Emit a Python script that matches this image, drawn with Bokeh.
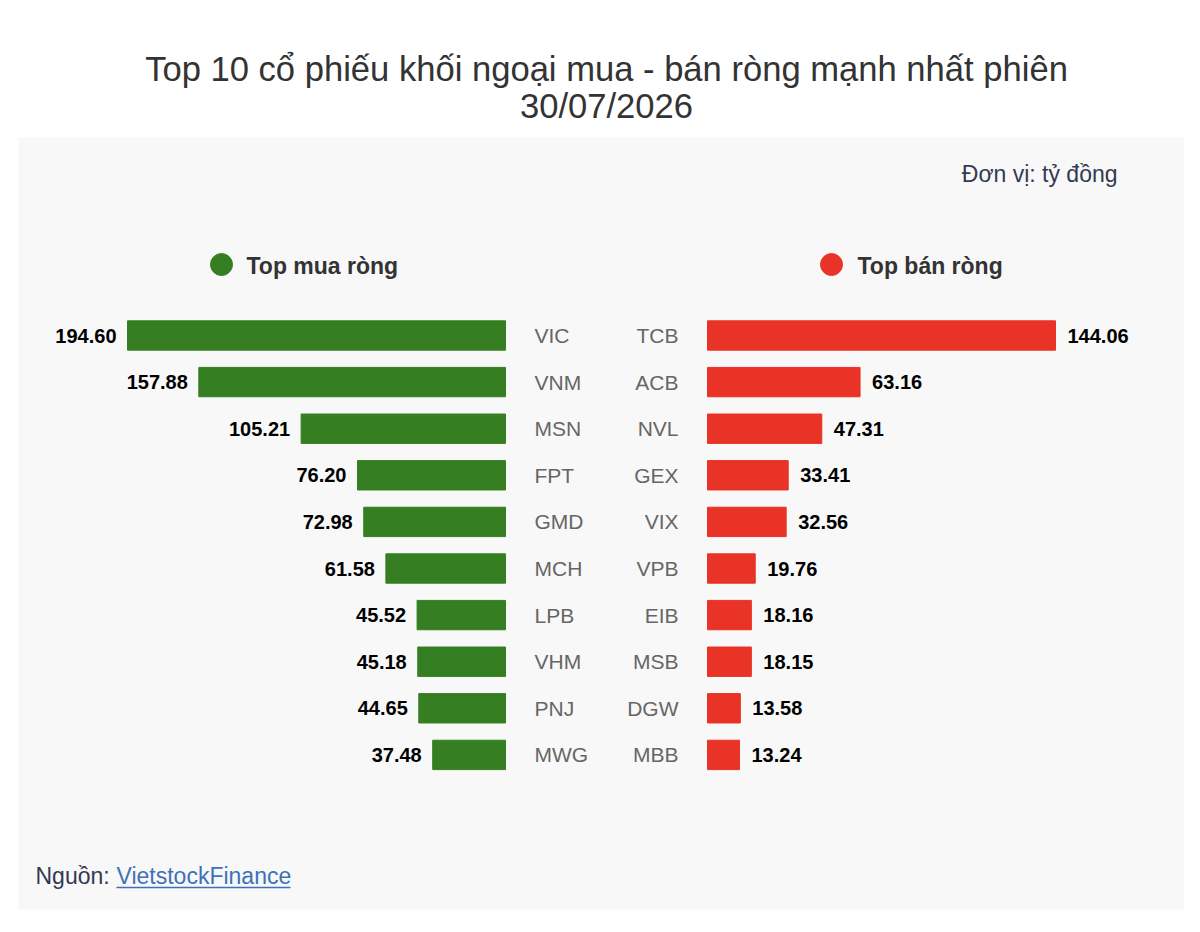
from bokeh.plotting import figure
from bokeh.models import Range1d, BoxAnnotation, Label
from bokeh.core.properties import value
from bokeh.embed import file_html
from bokeh.resources import INLINE

# data
title_text = "Top 10 cổ phiếu khối ngoại mua - bán ròng mạnh nhất phiên\n30/07/2026"
unit_text = "Đơn vị: tỷ đồng"
buy_name = "Top mua ròng"
sell_name = "Top bán ròng"
buy_tickers = ["VIC", "VNM", "MSN", "FPT", "GMD", "MCH", "LPB", "VHM", "PNJ", "MWG"]
buy_values = [194.60, 157.88, 105.21, 76.20, 72.98, 61.58, 45.52, 45.18, 44.65, 37.48]
sell_tickers = ["TCB", "ACB", "NVL", "GEX", "VIX", "VPB", "EIB", "MSB", "DGW", "MBB"]
sell_values = [144.06, 63.16, 47.31, 33.41, 32.56, 19.76, 18.16, 18.15, 13.58, 13.24]
source_label = "Nguồn:"
source_name = "VietstockFinance"

FONT = "Liberation Sans"
GREEN = "#367e22"
RED = "#e83326"

W, H = 1184, 916
# main ranges are in screenshot pixels
p = figure(width=W, height=H, x_range=Range1d(0, W), y_range=Range1d(H, 0),
           output_backend="svg", toolbar_location=None, min_border=0,
           background_fill_color="white", border_fill_color="white")
p.axis.visible = False
p.grid.visible = False
p.outline_line_color = None

# grey panel
p.add_layout(BoxAnnotation(left=18, right=1192, top=137, bottom=909, level="underlay",
                           fill_color="#f8f8f8", fill_alpha=1, line_color=None))

# scales for the two bar groups
buy_zero, buy_px = 505, 378 / max(buy_values)
sell_zero, sell_px = 707, 348 / max(sell_values)
row0, row_step = 335, 46.6
p.extra_x_ranges = {
    "buy": Range1d(buy_zero / buy_px, (buy_zero - W) / buy_px),
    "sell": Range1d(-sell_zero / sell_px, (W - sell_zero) / sell_px),
}
p.extra_y_ranges = {"rows": Range1d((H - row0) / row_step, -row0 / row_step)}

idx = list(range(len(buy_tickers)))

p.hbar(y=idx, left=0, right=buy_values, height=0.63, color=GREEN,
       x_range_name="buy", y_range_name="rows")
p.hbar(y=idx, left=0, right=sell_values, height=0.63, color=RED,
       x_range_name="sell", y_range_name="rows")

p.text(x=buy_values, y=idx, text=[f"{v:.2f}" for v in buy_values], x_offset=-11,
       text_align="right", text_baseline="middle", text_font=value(FONT),
       text_font_style="bold", text_font_size="20px", text_color="#000000",
       x_range_name="buy", y_range_name="rows")
p.text(x=sell_values, y=idx, text=[f"{v:.2f}" for v in sell_values], x_offset=12,
       text_align="left", text_baseline="middle", text_font=value(FONT),
       text_font_style="bold", text_font_size="20px", text_color="#000000",
       x_range_name="sell", y_range_name="rows")

p.text(x=[0] * len(idx), y=idx, text=buy_tickers, x_offset=29,
       text_align="left", text_baseline="middle", text_font=value(FONT),
       text_font_size="21px", text_color="#666666",
       x_range_name="buy", y_range_name="rows")
p.text(x=[0] * len(idx), y=idx, text=sell_tickers, x_offset=-29,
       text_align="right", text_baseline="middle", text_font=value(FONT),
       text_font_size="21px", text_color="#666666",
       x_range_name="sell", y_range_name="rows")

# legend
p.scatter(x=[221, 831], y=[264, 264], size=22, color=[GREEN, RED])
for x, t in [(246, buy_name), (857, sell_name)]:
    p.add_layout(Label(x=x, y=265, text=t, text_align="left", text_baseline="middle",
                       text_font=FONT, text_font_style="bold", text_font_size="23px",
                       text_color="#333333"))

# title and notes
for i, line in enumerate(title_text.split("\n")):
    p.add_layout(Label(x=606, y=68 + 37 * i, text=line, text_align="center",
                       text_baseline="middle", text_font=FONT, text_font_size="34.6px",
                       text_color="#333333"))
p.add_layout(Label(x=1117, y=173, text=unit_text, text_align="right", text_baseline="middle",
                   text_font=FONT, text_font_size="23px", text_color="#333a52"))
p.add_layout(Label(x=35, y=875, text=source_label, text_align="left", text_baseline="middle",
                   text_font=FONT, text_font_size="23px", text_color="#333a52"))
p.add_layout(Label(x=116, y=875, text=source_name, text_align="left", text_baseline="middle",
                   text_font=FONT, text_font_size="23px", text_color="#3d72b8"))
p.segment(x0=[116], y0=[887], x1=[290], y1=[887], line_color="#3d72b8", line_width=1.5)

open("out.html", "w").write(file_html(p, INLINE))
